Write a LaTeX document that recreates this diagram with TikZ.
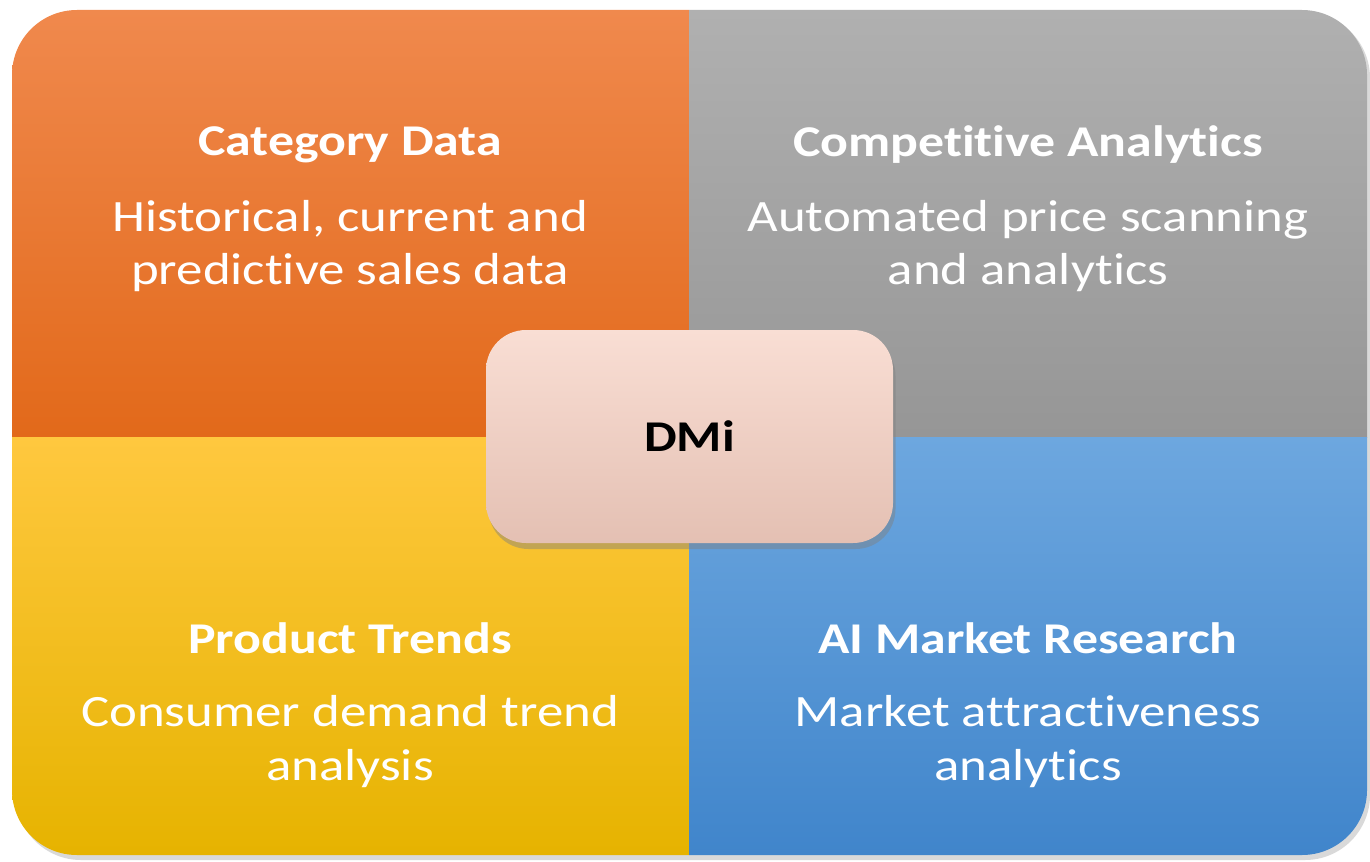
\documentclass[tikz,border=0pt]{standalone}
\usepackage{fontspec}
\setmainfont{Carlito}[FakeStretch=1.18,Ligatures=NoCommon]
\usetikzlibrary{shadows}

\definecolor{orangetop}{HTML}{F0894D}
\definecolor{orangebot}{HTML}{E2691A}
\definecolor{greytop}{HTML}{B0B0B0}
\definecolor{greybot}{HTML}{969696}
\definecolor{yellowtop}{HTML}{FFC83F}
\definecolor{yellowbot}{HTML}{E6B300}
\definecolor{bluetop}{HTML}{6DA7DF}
\definecolor{bluebot}{HTML}{4085CB}
\definecolor{pinktop}{HTML}{F9DED4}
\definecolor{pinkbot}{HTML}{E4C0B3}

\tikzstyle{title}=[text=white,font=\fontsize{25}{30}\selectfont\bfseries]
\tikzstyle{body}=[text=white,align=center,font=\fontsize{25.5}{30.6}\selectfont]
\tikzstyle{hub}=[rounded corners=0.8cm,minimum width=8.14cm,minimum height=4.26cm,
  top color=pinktop,bottom color=pinkbot,
  drop shadow={shadow xshift=0.05cm,shadow yshift=-0.12cm,opacity=0.45},
  font=\fontsize{25}{30}\selectfont\bfseries]

\begin{document}
\begin{tikzpicture}
		\useasboundingbox (0,0) rectangle (27.4,17.22);
		% outer shadow
		\fill[black,opacity=0.15,rounded corners=1.3cm] (0.32,0.02) rectangle (27.40,16.96);
		% four shaded quarters inside the rounded frame
		\begin{scope}
		\clip[rounded corners=1.3cm] (0.24,0.12) rectangle (27.34,17.02);
		\shade[top color=orangetop,bottom color=orangebot] (0.24,8.48) rectangle (13.78,17.02);
		\shade[top color=greytop,bottom color=greybot] (13.78,8.48) rectangle (27.34,17.02);
		\shade[top color=yellowtop,bottom color=yellowbot] (0.24,0.12) rectangle (13.78,8.48);
		\shade[top color=bluetop,bottom color=bluebot] (13.78,0.12) rectangle (27.34,8.48);
		\end{scope}
		% titles
		\node[title] (cat) at (7.0,14.32) {Category Data};
		\node[title] (comp) at (20.56,14.32) {Competitive Analytics};
		\node[title] (prod) at (7.0,4.46) {Product Trends};
		\node[title] (ai) at (20.56,4.46) {AI Market Research};
		% descriptions
		\node[body] (catbody) at (7.0,12.30) {Historical, current and\\predictive sales data};
		\node[body] (compbody) at (20.56,12.30) {Automated price scanning\\and analytics};
		\node[body] (prodbody) at (7.0,2.39) {Consumer demand trend\\analysis};
		\node[body] (aibody) at (20.56,2.39) {Market attractiveness\\analytics};
		% centre box
		\node[hub] (dmi) at (13.79,8.49) {DMi};
\end{tikzpicture}
\end{document}
